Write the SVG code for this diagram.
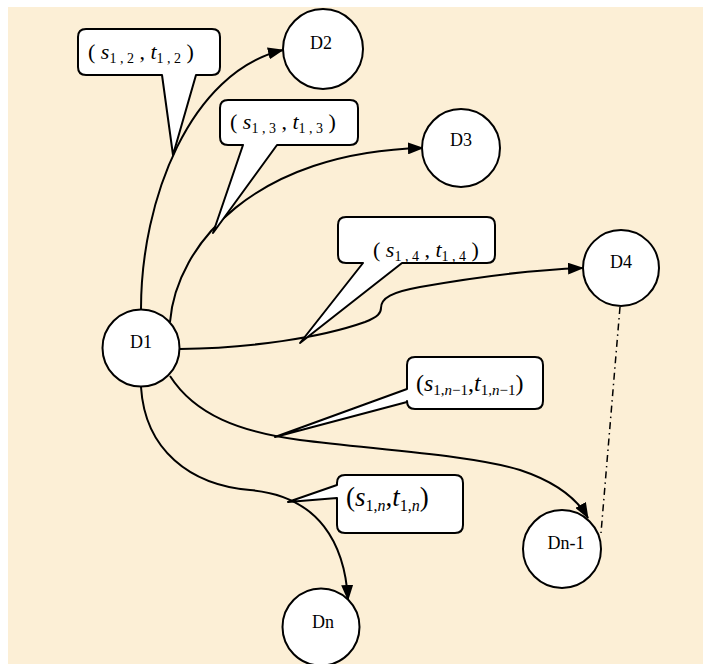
<svg xmlns="http://www.w3.org/2000/svg" width="703" height="664" viewBox="0 0 703 664" font-family="'Liberation Serif', 'DejaVu Serif', serif">
<defs>
<marker id="arr" viewBox="0 0 16 12" refX="15" refY="6" markerWidth="16" markerHeight="12" markerUnits="userSpaceOnUse" orient="auto">
<path d="M0,0 L16,6 L0,12 Z" fill="#000"/>
</marker>
<style>
.node circle{fill:#fff;stroke:#000;stroke-width:2}
.node text{font-family:'Liberation Serif','DejaVu Serif',serif;font-size:18px;fill:#000;text-anchor:middle}
.edge{fill:none;stroke:#000;stroke-width:2}
.call path{fill:#fff;stroke:#000;stroke-width:2;stroke-linejoin:round}
.call text{font-family:'Liberation Serif','DejaVu Serif',serif;font-size:22px;fill:#000}
.it{font-style:italic}
.sub{font-size:14px}
</style>
</defs>
<rect x="0" y="0" width="703" height="664" fill="#fff"/>
<rect x="8" y="7" width="695" height="657" fill="#FCEFD6"/>
<g id="connectors">
<path class="edge" d="M141,309 C141,200 190,72 283,50" marker-end="url(#arr)"/>
<path class="edge" d="M170,322 C176,245 255,152 423,148" marker-end="url(#arr)"/>
<path class="edge" d="M180,349 C250,348 320,338 365,322 C378,317 381,313 381,308 C381,298 392,292 420,287 C470,278 530,270 583,268" marker-end="url(#arr)"/>
<path class="edge" d="M170,376 C195,415 240,432 300,440 C380,450 470,455 520,470 C550,480 575,495 588,518" marker-end="url(#arr)"/>
<path class="edge" d="M141,387 C145,450 190,485 250,490 C320,496 345,545 348,600" marker-end="url(#arr)"/>
<path d="M620,307 L601,533" fill="none" stroke="#000" stroke-width="1.5" stroke-dasharray="7,4,1.5,4"/>
</g>
<g id="callout-12" class="call">
<path d="M86,29 H212 Q220,29 220,37 V67 Q220,75 212,75 H196 L173,155 L162,75 H86 Q78,75 78,67 V37 Q78,29 86,29 Z"/>
<text x="88" y="59">( <tspan class="it">s</tspan><tspan class="sub" dy="4">1 , 2</tspan><tspan dy="-4"> , </tspan><tspan class="it">t</tspan><tspan class="sub" dy="4">1 , 2</tspan><tspan dy="-4"> )</tspan></text>
</g>
<g id="callout-13" class="call">
<path d="M228,100 H350 Q358,100 358,108 V137 Q358,145 350,145 H277 L213,233 L243,145 H228 Q220,145 220,137 V108 Q220,100 228,100 Z"/>
<text x="230" y="129">( <tspan class="it">s</tspan><tspan class="sub" dy="4">1 , 3</tspan><tspan dy="-4"> , </tspan><tspan class="it">t</tspan><tspan class="sub" dy="4">1 , 3</tspan><tspan dy="-4"> )</tspan></text>
</g>
<g id="callout-14" class="call">
<path d="M346,217 H487 Q495,217 495,225 V255 Q495,263 487,263 H402 L300,343 L363,263 H346 Q338,263 338,255 V225 Q338,217 346,217 Z"/>
<text x="373" y="257">( <tspan class="it">s</tspan><tspan class="sub" dy="4">1 , 4</tspan><tspan dy="-4"> , </tspan><tspan class="it">t</tspan><tspan class="sub" dy="4">1 , 4</tspan><tspan dy="-4"> )</tspan></text>
</g>
<g id="callout-1n-1" class="call">
<path d="M415,357 H535 Q543,357 543,365 V401 Q543,409 535,409 H415 Q407,409 407,401 V402 L275,437 L407,389 V365 Q407,357 415,357 Z"/>
<text x="416" y="391" style="font-size:24px">(<tspan class="it">s</tspan><tspan class="sub" style="font-size:15px" dy="4">1,<tspan class="it">n</tspan>−1</tspan><tspan dy="-4">,</tspan><tspan class="it">t</tspan><tspan class="sub" style="font-size:15px" dy="4">1,<tspan class="it">n</tspan>−1</tspan><tspan dy="-4">)</tspan></text>
</g>
<g id="callout-1n" class="call">
<path d="M345,475 H455 Q463,475 463,483 V525 Q463,533 455,533 H345 Q337,533 337,525 V498 L288,502 L337,485 V483 Q337,475 345,475 Z"/>
<text x="346" y="506" style="font-size:27px">(<tspan class="it">s</tspan><tspan class="sub" style="font-size:16px" dy="5">1,<tspan class="it">n</tspan></tspan><tspan dy="-5">,</tspan><tspan class="it">t</tspan><tspan class="sub" style="font-size:16px" dy="5">1,<tspan class="it">n</tspan></tspan><tspan dy="-5">)</tspan></text>
</g>
<g id="D1" class="node"><circle cx="141" cy="348" r="38.5"/><text x="141" y="348">D1</text></g>
<g id="D2" class="node"><circle cx="323" cy="49" r="40"/><text x="321" y="49">D2</text></g>
<g id="D3" class="node"><circle cx="461" cy="148" r="39"/><text x="461" y="146">D3</text></g>
<g id="D4" class="node"><circle cx="621" cy="268" r="38"/><text x="621" y="268">D4</text></g>
<g id="Dn-1" class="node"><circle cx="562" cy="549" r="39"/><text x="566" y="549">Dn-1</text></g>
<g id="Dn" class="node"><circle cx="321" cy="627" r="38.5"/><text x="323" y="628">Dn</text></g>
</svg>
